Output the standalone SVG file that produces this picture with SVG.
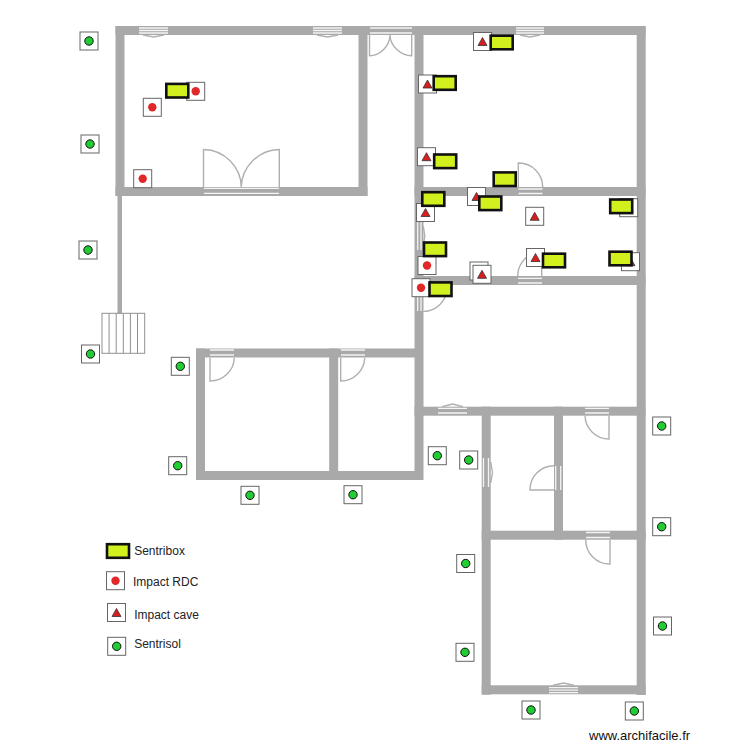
<svg xmlns="http://www.w3.org/2000/svg" xmlns:xlink="http://www.w3.org/1999/xlink" width="750" height="750" viewBox="0 0 750 750">
<style>
.wall{fill:#a9a9a9}
.open{stroke:#f4f4f4;stroke-width:1.3;fill:none}
.leaf{stroke:#b0b0b0;stroke-width:1.4;fill:none}
.stair{stroke:#909090;stroke-width:1;fill:#fff}
.box{fill:#fff;stroke:#666;stroke-width:1}
.sb{fill:#d2f01e;stroke:#111;stroke-width:2.6}
text{font-family:"Liberation Sans",Arial,sans-serif;fill:#222;font-size:12px}
</style>
<defs>
<g id="rdc"><rect class="box" x="-9" y="-9" width="18" height="18"/><circle r="4.200" fill="#e02828"/></g>
<g id="cave"><rect class="box" x="-9" y="-9" width="18" height="18"/><path d="M0-4 4.500 4H-4.500Z" fill="#d81e1e" stroke="#333" stroke-width=".8"/></g>
<g id="sol"><rect class="box" x="-9" y="-9" width="18" height="18"/><circle r="4.200" fill="#22cc33" stroke="#111" stroke-width="1"/></g>
<rect id="sbox" class="sb" x="-11" y="-6.800" width="22" height="13.600"/>
</defs>
<rect width="750" height="750" fill="#fff"/>
<g id="walls">
<rect class="wall" x="115.500" y="26" width="530" height="9"/>
<rect class="wall" x="115.500" y="26" width="9" height="170"/>
<rect class="wall" x="115.500" y="187" width="252" height="9"/>
<rect class="wall" x="358.500" y="26" width="9" height="170"/>
<rect class="wall" x="117.500" y="196" width="4.500" height="118"/>
<rect class="wall" x="414.500" y="26" width="9" height="454"/>
<rect class="wall" x="636.700" y="26" width="9" height="669"/>
<rect class="wall" x="414.500" y="187" width="231" height="9"/>
<rect class="wall" x="414.500" y="276" width="231" height="9"/>
<rect class="wall" x="414.500" y="406.700" width="231" height="9"/>
<rect class="wall" x="196" y="348.500" width="227" height="9"/>
<rect class="wall" x="196" y="471" width="227" height="9"/>
<rect class="wall" x="196" y="348.500" width="9" height="131"/>
<rect class="wall" x="329.200" y="348.500" width="9" height="131"/>
<rect class="wall" x="481.700" y="406.700" width="9" height="288"/>
<rect class="wall" x="554" y="406.700" width="9" height="133"/>
<rect class="wall" x="481.700" y="530.700" width="164" height="9"/>
<rect class="wall" x="481.700" y="685.300" width="164" height="9"/>
</g>
<g id="openings">
<path class="open" d="M139 28H168M139 30.500H168M139 33H168M313 28H342M313 30.500H342M313 33H342M516 28H544M516 30.500H544M516 33H544M370 28H412M370 33H412M204 188.300H279M204 193.300H279M518.500 189H542.500M518.500 193.500H542.500M518 278.300H542M518 283H542M210 350H234M210 355H234M341 350H365M341 355H365M438 408.300H467M438 413H467M585 408.300H609M585 413H609M586 532.500H610M586 537.500H610M549 687.700H578M549 690.200H578M549 692.700H578M417.700 222V250M421 222V250M417.700 287V311M421 287V311M483.500 458V487M488.500 458V487M555.700 466V490M560.700 466V490"/>
<path class="leaf" d="M143 35 153.500 37 164 35M317 35 327.500 37 338 35M520 35 530 37 540 35M442 406.700 452.500 404 463 406.700M553 685.300 563.500 683 574 685.300M423.300 226 424.800 236 423.300 246M490.700 462 492.500 472.500 490.700 483"/>
<path class="leaf" d="M369.500 35V55.700C380 55.500 390 46 390 35C390 46 401 55.500 411.700 55.700V35"/>
<path class="leaf" d="M203.500 187V149.500C225 150 241 167 241.300 187C241.600 167 258 150 279.300 149.500V187"/>
<path class="leaf" d="M518.300 187V163A24 24 0 0 1 542.700 187"/>
<path class="leaf" d="M517.700 276A24 24 0 0 1 541.700 252V276"/>
<path class="leaf" d="M423.300 311.500A24 24 0 0 0 447 287"/>
<path class="leaf" d="M210 357.700V381A24 24 0 0 0 234.300 357.700"/>
<path class="leaf" d="M340.700 357.700V381A24 24 0 0 0 364.700 357.700"/>
<path class="leaf" d="M585 415.700A24 24 0 0 0 609 439V415.700"/>
<path class="leaf" d="M554 465.700A24 24 0 0 0 530 490H554"/>
<path class="leaf" d="M585.700 539.700A24 24 0 0 0 610 564V539.700"/>
</g>
<g id="stairs">
<rect class="stair" x="102" y="313.300" width="42.700" height="40"/>
<path class="stair" d="M109.100 313.300V353.300M116.200 313.300V353.300M123.300 313.300V353.300M130.400 313.300V353.300M137.500 313.300V353.300"/>
</g>
<g id="sensors-green">
<use href="#sol" x="89" y="41"/><use href="#sol" x="90" y="144"/><use href="#sol" x="88" y="250"/><use href="#sol" x="90.500" y="354"/>
<use href="#sol" x="180.300" y="366.300"/><use href="#sol" x="177.700" y="465.700"/><use href="#sol" x="250" y="495.300"/><use href="#sol" x="353" y="494.700"/>
<use href="#sol" x="437.300" y="455.700"/><use href="#sol" x="468.700" y="460"/><use href="#sol" x="661.700" y="426"/><use href="#sol" x="661.700" y="526.700"/>
<use href="#sol" x="465.700" y="563.500"/><use href="#sol" x="465" y="652.300"/><use href="#sol" x="662.500" y="626"/><use href="#sol" x="531" y="710"/><use href="#sol" x="634.300" y="711"/>
</g>
<g id="sensors-rdc">
<use href="#rdc" x="195.700" y="91.300"/><use href="#rdc" x="152.300" y="107.300"/><use href="#rdc" x="142.700" y="178.700"/><use href="#rdc" x="427" y="265.500"/><use href="#rdc" x="421" y="287.700"/>
</g>
<g id="sensors-cave">
<use href="#cave" x="482.500" y="41.500"/><use href="#cave" x="427.500" y="84"/><use href="#cave" x="426.500" y="156.700"/><use href="#cave" x="425.500" y="212.500"/><use href="#cave" x="476.500" y="196.500"/><use href="#cave" x="534.700" y="216.300"/><use href="#cave" x="628.700" y="207.700"/><use href="#cave" x="535.500" y="257.500"/><use href="#cave" x="630.500" y="261.700"/><use href="#cave" x="479" y="271"/><use href="#cave" x="482" y="274.300"/>
</g>
<g id="sentriboxes">
<use href="#sbox" x="177.300" y="90.700"/><use href="#sbox" x="501.700" y="42.500"/><use href="#sbox" x="444.700" y="83"/><use href="#sbox" x="445.200" y="161.300"/><use href="#sbox" x="504.700" y="179.200"/><use href="#sbox" x="433.300" y="199"/><use href="#sbox" x="490.300" y="203.300"/><use href="#sbox" x="621.200" y="206.300"/><use href="#sbox" x="435" y="249.300"/><use href="#sbox" x="554" y="260.500"/><use href="#sbox" x="620.500" y="258.500"/><use href="#sbox" x="440.500" y="289.200"/>
</g>
<g id="legend">
<use href="#sbox" x="118" y="551"/><text x="134.200" y="555">Sentribox</text>
<use href="#rdc" x="115.500" y="580.700"/><text x="133" y="586">Impact RDC</text>
<use href="#cave" x="116.500" y="612.500"/><text x="134.200" y="619">Impact cave</text>
<use href="#sol" x="116.700" y="646.300"/><text x="134.200" y="648">Sentrisol</text>
</g>
<text id="watermark" x="589" y="740" style="font-size:13px;fill:#111">www.archifacile.fr</text>
</svg>
